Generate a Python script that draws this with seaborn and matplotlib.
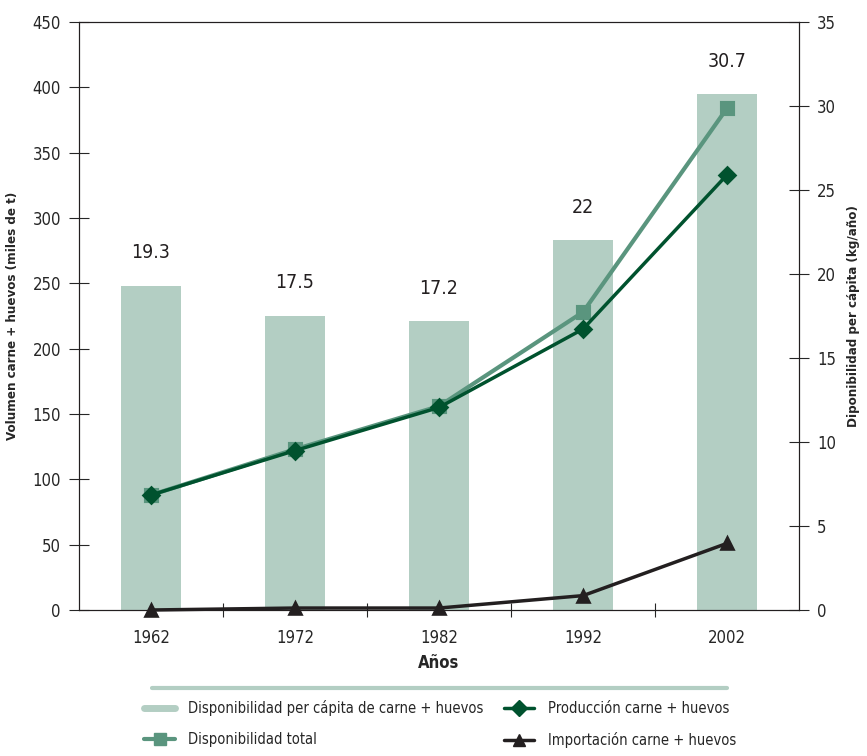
import matplotlib
matplotlib.use("Agg")
import matplotlib.pyplot as plt
from matplotlib.lines import Line2D
import seaborn as sns
import pandas as pd

years = ["1962", "1972", "1982", "1992", "2002"]
per_capita = [19.3, 17.5, 17.2, 22, 30.7]
disp_total = [88, 123, 156, 228, 384]
produccion = [88, 122, 155, 215, 333]
importacion = [0, 1.5, 1.5, 11, 51]

c_bar = "#b3cec3"
c_total = "#5a957e"
c_prod = "#00522e"
c_imp = "#231f20"

sns.set_style("ticks")
plt.rcParams["font.family"] = ["DejaVu Sans"]
plt.rcParams["font.stretch"] = "condensed"
plt.rcParams["axes.edgecolor"] = "#231f20"
plt.rcParams["axes.linewidth"] = 0.8

df = pd.DataFrame({"year": years, "per_capita": per_capita, "total": disp_total,
                   "prod": produccion, "imp": importacion})

fig, ax = plt.subplots(figsize=(8.67, 7.56), dpi=100)
fig.subplots_adjust(left=79 / 867, right=799 / 867, top=1 - 22 / 756, bottom=1 - 610 / 756)
ax2 = ax.twinx()

sns.barplot(data=df, x="year", y="per_capita", color=c_bar, width=0.41,
            saturation=1, ax=ax2, edgecolor="none")
for i, v in enumerate(per_capita):
    ax2.text(i, v + 1.4, f"{v:g}", ha="center", va="bottom", fontsize=14, color="#231f20")

sns.pointplot(data=df, x="year", y="total", color=c_total, marker="s", markersize=9,
              linewidth=3, ax=ax, zorder=3)
sns.pointplot(data=df, x="year", y="prod", color=c_prod, marker="D", markersize=8,
              linewidth=2.5, ax=ax, zorder=4)
sns.pointplot(data=df, x="year", y="imp", color=c_imp, marker="^", markersize=9,
              linewidth=2.5, ax=ax, zorder=5, clip_on=False)

ax.set_zorder(ax2.get_zorder() + 1)
ax.patch.set_visible(False)

ax.set_xlim(-0.5, 4.5)
ax.set_ylim(0, 450)
ax2.set_ylim(0, 35)
ax.set_yticks(range(0, 451, 50))
ax2.set_yticks(range(0, 36, 5))

ax.set_xticks(range(len(years)))
ax.set_xticklabels(years)
ax.set_xticks([0.5, 1.5, 2.5, 3.5], minor=True)
ax.tick_params(axis="x", which="major", length=0, labelsize=12, pad=14)
ax.tick_params(axis="x", which="minor", length=10, direction="inout", width=0.8)
ax.tick_params(axis="y", length=14, direction="inout", width=0.8, labelsize=12, pad=6)
ax2.tick_params(axis="y", length=14, direction="inout", width=0.8, labelsize=12, pad=6)
ax2.tick_params(axis="x", length=0)

ax.set_xlabel("Años", fontsize=12, fontweight="bold", labelpad=5)
ax.set_ylabel("Volumen carne + huevos (miles de t)", fontsize=9.5, fontweight="bold", labelpad=10)
ax2.set_ylabel("Diponibilidad per cápita (kg/año)", fontsize=9.5, fontweight="bold", labelpad=8)

for a in (ax, ax2):
    for s in a.spines.values():
        s.set_visible(True)
        s.set_color("#231f20")
        s.set_linewidth(0.8)

fig.add_artist(Line2D([152 / 867, 727 / 867], [1 - 688 / 756, 1 - 688 / 756],
                      color=c_bar, linewidth=3, transform=fig.transFigure))

handles = [
    Line2D([], [], color=c_bar, linewidth=5),
    Line2D([], [], color=c_total, linewidth=3, marker="s", markersize=9),
    Line2D([], [], color=c_prod, linewidth=2.5, marker="D", markersize=8),
    Line2D([], [], color=c_imp, linewidth=2.5, marker="^", markersize=8),
]
labels = [
    "Disponibilidad per cápita de carne + huevos",
    "Disponibilidad total",
    "Producción carne + huevos",
    "Importación carne + huevos",
]
fig.legend(handles, labels, ncol=2, loc="center", bbox_to_anchor=(440 / 867, 1 - 724 / 756),
           frameon=False, fontsize=10.5, handlelength=2.1, columnspacing=1.4,
           labelspacing=1.15, handletextpad=0.9)

plt.savefig("out.png", dpi=100)
